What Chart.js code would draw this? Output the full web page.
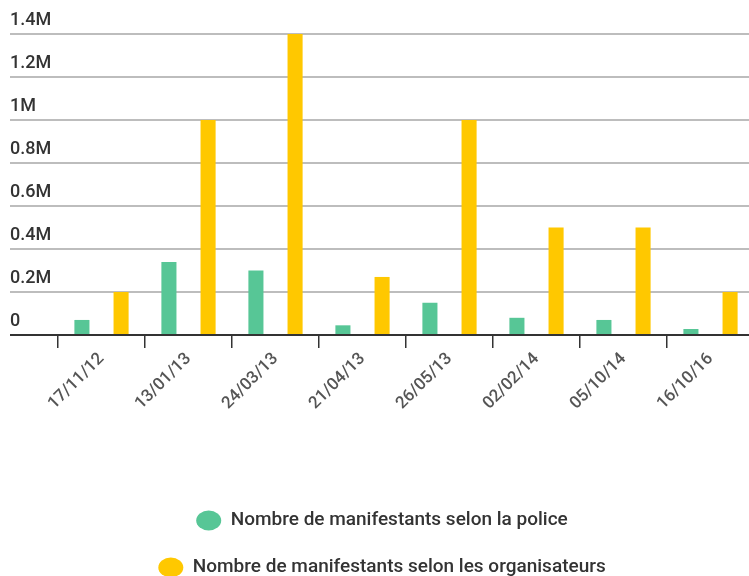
<!DOCTYPE html>
<html>
<head>
<meta charset="utf-8">
<script src="https://cdn.jsdelivr.net/npm/chart.js@4.4.1/dist/chart.umd.min.js"></script>
<style>
  html, body { margin: 0; padding: 0; background: #fff; overflow: hidden; }
  #wrap { width: 754px; height: 600px; position: relative; }
</style>
</head>
<body>
<div id="wrap"><canvas id="manifChart"></canvas></div>
<script>
const dates = ['17/11/12', '13/01/13', '24/03/13', '21/04/13', '26/05/13', '02/02/14', '05/10/14', '16/10/16'];
const police = [70000, 340000, 300000, 45000, 150000, 80000, 70000, 28000];
const organisateurs = [200000, 1000000, 1400000, 270000, 1000000, 500000, 500000, 200000];
const yTickLabels = ['0', '0.2M', '0.4M', '0.6M', '0.8M', '1M', '1.2M', '1.4M'];

const gridColor = (ctx) => (ctx.tick && ctx.tick.value === 0 ? '#333333' : '#bdbdbd');

const ctx = document.getElementById('manifChart').getContext('2d');
new Chart(ctx, {
  type: 'bar',
  data: {
    labels: dates,
    datasets: [
      {
        label: 'Nombre de manifestants selon la police',
        data: police,
        backgroundColor: '#57c696',
        borderWidth: 0,
        categoryPercentage: 0.9,
        barPercentage: 0.385
      },
      {
        label: 'Nombre de manifestants selon les organisateurs',
        data: organisateurs,
        backgroundColor: '#ffc800',
        borderWidth: 0,
        categoryPercentage: 0.9,
        barPercentage: 0.385
      }
    ]
  },
  options: {
    responsive: true,
    maintainAspectRatio: false,
    animation: false,
    layout: {
      padding: { top: 34, left: 10, right: 0, bottom: 13 }
    },
    plugins: {
      title: { display: false },
      tooltip: { enabled: false },
      legend: {
        position: 'bottom',
        labels: {
          usePointStyle: true,
          pointStyle: 'circle',
          boxHeight: 14,
          pointStyleWidth: 25,
          padding: 28,
          color: '#333',
          font: { family: 'Roboto', size: 19, weight: '500' }
        }
      }
    },
    scales: {
      x: {
        afterFit: (scale) => { scale.height = 148; },
        grid: {
          offset: true,
          drawOnChartArea: false,
          drawTicks: true,
          tickLength: 13,
          tickColor: '#333',
          lineWidth: 1.5
        },
        border: { color: '#333', width: 2 },
        ticks: {
          minRotation: 45,
          maxRotation: 45,
          padding: 1,
          color: '#555',
          font: { family: 'Roboto', size: 17, weight: '500' }
        }
      },
      y: {
        min: 0,
        max: 1400000,
        afterFit: (scale) => { scale.width = 48; },
        border: { display: false },
        grid: {
          color: gridColor,
          tickColor: gridColor,
          lineWidth: 2,
          drawTicks: true,
          tickLength: 48
        },
        ticks: {
          stepSize: 200000,
          crossAlign: 'far',
          labelOffset: -14,
          color: '#333',
          font: { family: 'Roboto', size: 18, weight: '500' },
          callback: (value, i) => yTickLabels[i]
        }
      }
    }
  }
});
</script>
</body>
</html>
